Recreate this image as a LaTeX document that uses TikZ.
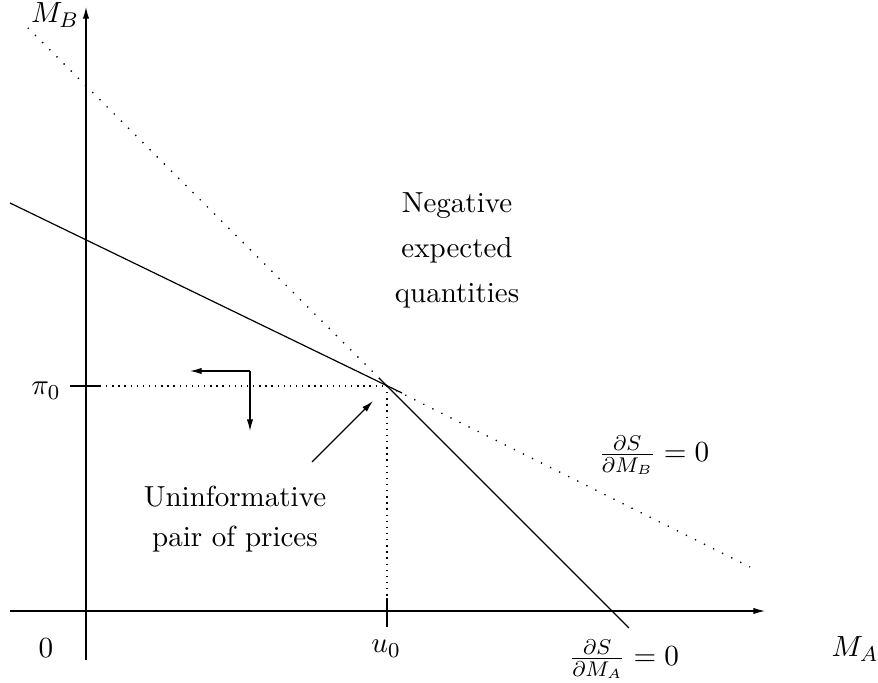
\documentclass[tikz,border=0pt]{standalone}
\usepackage{amsmath}
\usetikzlibrary{arrows.meta}

\begin{document}
\begin{tikzpicture}[x=0.0132cm,y=-0.0132cm]
    % styles
    \tikzset{
      axis/.style      = {line width=0.45pt, -{Latex[length=4.4pt,width=2.4pt]}},
      locus/.style     = {line width=0.45pt, draw=black},
      extension/.style = {line width=0.5pt, dash pattern=on 0.5pt off 3.3pt},
      guide/.style     = {line width=0.5pt, dash pattern=on 0.5pt off 1.8pt},
      pointer/.style   = {line width=0.45pt, -{Latex[length=4.4pt,width=2.4pt]}},
      lbl/.style       = {anchor=base, inner sep=0pt, font=\fontsize{10.9}{13}\selectfont}
    }
    \useasboundingbox (0,0) rectangle (878,683);

    % Axes:
    \coordinate (xstart) at (10,611);
    \coordinate (xend)   at (765,611);
    \coordinate (ystart) at (86,660);
    \coordinate (yend)   at (86,7);
    \draw[axis] (xstart) -- (xend);
    \draw[axis] (ystart) -- (yend);

    % Uninformative pair of prices:
    \coordinate (eq) at (387,386);

    % dS/dM_B = 0, solid then dotted:
    \coordinate (bstart) at (10,203);
    \coordinate (bstop)  at (402,393);
    \coordinate (btail)  at (750,567);
    \draw[locus] (bstart) -- (bstop);
    \draw[extension] (eq) -- (btail);

    % dS/dM_A = 0, solid then dotted:
    \coordinate (astart) at (379,378);
    \coordinate (astop)  at (629,628);
    \coordinate (atail)  at (23,23);
    \draw[locus] (astart) -- (astop);
    \draw[extension] (eq) -- (atail);

    % Guides to the axes:
    \coordinate (pitick)  at (70,386);
    \coordinate (pidot)   at (100,386);
    \coordinate (udot)    at (387,598);
    \coordinate (utick)   at (387,627);
    \draw[locus] (pitick) -- (pidot);
    \draw[guide] (pidot) -- (eq);
    \draw[guide] (eq) -- (udot);
    \draw[locus] (udot) -- (utick);

    % Direction arrows:
    \coordinate (corner) at (250,371);
    \coordinate (left)   at (190,371);
    \coordinate (down)   at (250,431);
    \draw[pointer] (corner) -- (left);
    \draw[pointer] (corner) -- (down);
    \coordinate (tail) at (312,462);
    \coordinate (head) at (373,401);
    \draw[pointer] (tail) -- (head);

    % Labels:
    \node[lbl] (mb)   at (55,23)   {$M_B$};
    \node[lbl] (ma)   at (855,657) {$M_A$};
    \node[lbl] (zero) at (46,658)  {$0$};
    \node[lbl] (pi)   at (46,395)  {$\pi_0$};
    \node[lbl] (u)    at (386,653) {$u_0$};
    \node[lbl] (dsdb) at (654,462) {$\frac{\partial S}{\partial M_B}=0$};
    \node[lbl] (dsda) at (624,666) {$\frac{\partial S}{\partial M_A}=0$};

    \node[lbl] (neg1) at (457,213) {Negative};
    \node[lbl] (neg2) at (457,258) {expected};
    \node[lbl] (neg3) at (457,303) {quantities};
    \node[lbl] (uninf1) at (235,507) {Uninformative};
    \node[lbl] (uninf2) at (235,547) {pair of prices};

  \end{tikzpicture}
\end{document}
